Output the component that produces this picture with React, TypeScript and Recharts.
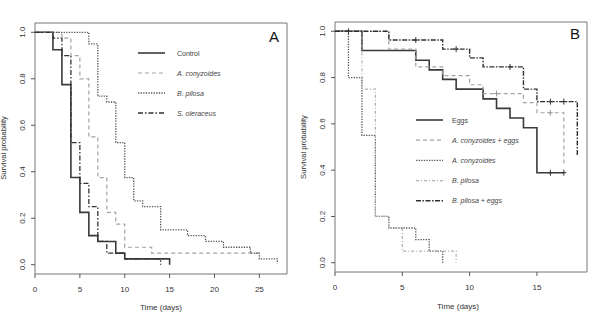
import React from 'react';
import { ComposedChart, Line, Scatter, XAxis, YAxis, ReferenceArea } from 'recharts';

const FONT = '"Liberation Sans", Arial, sans-serif';

// Panel A: larval survival on host plants (Kaplan-Meier steps)
const controlTimes = [0, 2, 3, 4, 5, 6, 7, 9, 10, 15];
const controlSurv = [1, 0.925, 0.775, 0.375, 0.225, 0.125, 0.1, 0.05, 0.025, 0];
const conyzoidesTimes = [0, 3, 4, 5, 6, 7, 8, 9, 10, 13, 25];
const conyzoidesSurv = [1, 0.975, 0.9, 0.8, 0.55, 0.375, 0.225, 0.175, 0.075, 0.05, 0.05];
const pilosaTimes = [0, 6, 7, 8, 9, 10, 11, 12, 14, 17, 19, 21, 24, 25, 27];
const pilosaSurv = [1, 0.95, 0.725, 0.7, 0.525, 0.375, 0.275, 0.25, 0.15, 0.125, 0.1, 0.075, 0.05, 0.025, 0.005];
const oleraceusTimes = [0, 2, 3, 4, 5, 6, 7, 8, 10, 14];
const oleraceusSurv = [1, 0.975, 0.9, 0.525, 0.35, 0.25, 0.1, 0.05, 0.025, 0];

// Panel B: survival with / without eggs
const eggsTimes = [0, 2, 6, 7, 8, 9, 11, 12, 13, 14, 15, 17];
const eggsSurv = [1, 0.917, 0.875, 0.833, 0.792, 0.75, 0.708, 0.667, 0.625, 0.583, 0.389, 0.389];
const conyzEggsTimes = [0, 4, 6, 8, 10, 11, 14, 15, 17];
const conyzEggsSurv = [1, 0.923, 0.846, 0.808, 0.769, 0.731, 0.692, 0.648, 0.43];
const conyzTimes = [0, 1, 2, 3, 4, 6, 7, 8];
const conyzSurv = [1, 0.8, 0.55, 0.2, 0.15, 0.1, 0.05, 0];
const bPilosaTimes = [0, 2, 3, 4, 5, 9];
const bPilosaSurv = [1, 0.75, 0.2, 0.15, 0.05, 0];
const pilosaEggsTimes = [0, 4, 8, 10, 11, 14, 15, 18];
const pilosaEggsSurv = [1, 0.962, 0.923, 0.885, 0.846, 0.75, 0.696, 0.465];

// censored observations (+ marks)
const eggsCensT = [16, 17];
const eggsCensS = [0.389, 0.389];
const conyzEggsCensT = [12, 16];
const conyzEggsCensS = [0.731, 0.648];
const pilosaEggsCensT = [1, 6, 9, 13, 16, 17];
const pilosaEggsCensS = [1, 0.962, 0.923, 0.846, 0.696, 0.696];

const xTicksA = [0, 5, 10, 15, 20, 25];
const xTicksB = [0, 5, 10, 15];
const yTicks = [0, 0.2, 0.4, 0.6, 0.8, 1.0];

const toPoints = (times: number[], surv: number[]) => times.map((t, i) => ({ t, s: surv[i] }));

type Style = { stroke: string; dash?: string; width: number };
const solid: Style = { stroke: '#3a3a3a', width: 1.6 };
const greyDash: Style = { stroke: '#a3a3a3', dash: '4 3', width: 1.2 };
const dotted: Style = { stroke: '#555', dash: '1.3 1.3', width: 1.3 };
const dashDot: Style = { stroke: '#333', dash: '5 2 1.5 2', width: 1.3 };
const lightDashDot: Style = { stroke: '#b0b0b0', dash: '3 2 1 2', width: 1.2 };
const darkDashDot: Style = { stroke: '#303030', dash: '5 1.5 1.5 1.5', width: 1.4 };

const seriesA = [
  { name: 'Control', italic: false, style: solid, data: toPoints(controlTimes, controlSurv) },
  { name: 'A. conyzoides', italic: true, style: greyDash, data: toPoints(conyzoidesTimes, conyzoidesSurv) },
  { name: 'B. pilosa', italic: true, style: dotted, data: toPoints(pilosaTimes, pilosaSurv) },
  { name: 'S. oleraceus', italic: true, style: dashDot, data: toPoints(oleraceusTimes, oleraceusSurv) },
];

const seriesB = [
  { name: 'Eggs', italic: false, style: solid, data: toPoints(eggsTimes, eggsSurv), cens: toPoints(eggsCensT, eggsCensS) },
  { name: 'A. conyzoides + eggs', italic: true, style: greyDash, data: toPoints(conyzEggsTimes, conyzEggsSurv), cens: toPoints(conyzEggsCensT, conyzEggsCensS) },
  { name: 'A. conyzoides', italic: true, style: dotted, data: toPoints(conyzTimes, conyzSurv), cens: [] },
  { name: 'B. pilosa', italic: true, style: lightDashDot, data: toPoints(bPilosaTimes, bPilosaSurv), cens: [] },
  { name: 'B. pilosa + eggs', italic: true, style: darkDashDot, data: toPoints(pilosaEggsTimes, pilosaEggsSurv), cens: toPoints(pilosaEggsCensT, pilosaEggsCensS) },
];

const YTick = (props: any) => {
  const { x, y, payload } = props;
  const bx = x - 3.5;
  return (
    <text x={bx} y={y} transform={`rotate(-90, ${bx}, ${y})`} textAnchor="middle"
      fontSize={8} fontFamily={FONT} fill="#333">
      {Number(payload.value).toFixed(1)}
    </text>
  );
};

const censorMark = (color: string) => (props: any) => {
  const { cx, cy } = props;
  return (
    <path d={`M${cx},${cy - 3}V${cy + 3}M${cx - 2.5},${cy}H${cx + 2.5}`} stroke={color} strokeWidth={1} fill="none" />
  );
};

const tickStyle = { fontSize: 8, fill: '#333', fontFamily: FONT };

const Panel = ({ series, xMax, xTicks, width, top, bottomH, right }: any) => (
  <ComposedChart width={width} height={315} margin={{ top, right, bottom: 0, left: 0 }}>
    <XAxis type="number" dataKey="t" domain={[0, xMax]} ticks={xTicks} allowDataOverflow
      axisLine={false} tickSize={4} tickMargin={8} height={bottomH}
      tickLine={{ stroke: '#555' }} tick={tickStyle} />
    <YAxis type="number" domain={[-0.04, 1.04]} ticks={yTicks} allowDataOverflow width={35}
      axisLine={false} tickSize={4} tickMargin={2} tickLine={{ stroke: '#555' }} tick={<YTick />} />
    <ReferenceArea x1={0} x2={xMax} y1={-0.04} y2={1.04} fill="none" stroke="#777" strokeWidth={1} />
    {series.map((s: any) => (
      <Line key={s.name} data={s.data} dataKey="s" type="stepAfter" stroke={s.style.stroke}
        strokeWidth={s.style.width} strokeDasharray={s.style.dash} dot={false}
        isAnimationActive={false} />
    ))}
    {series.filter((s: any) => s.cens && s.cens.length).map((s: any) => (
      <Scatter key={s.name + '-cens'} data={s.cens} dataKey="s" shape={censorMark(s.style.stroke === '#a3a3a3' ? '#999' : '#333')}
        isAnimationActive={false} />
    ))}
  </ComposedChart>
);

const LegendRows = ({ series, x1, x2, tx, y0, step }: any) => (
  <g>
    {series.map((s: any, i: number) => {
      const y = y0 + i * step;
      return (
        <g key={s.name}>
          <line x1={x1} x2={x2} y1={y} y2={y} stroke={s.style.stroke} strokeWidth={s.style.width}
            strokeDasharray={s.style.dash} />
          <text x={tx} y={y + 2.5} fontSize={7} fontFamily={FONT} fill="#444"
            fontStyle={s.italic ? 'italic' : 'normal'}>{s.name}</text>
        </g>
      );
    })}
  </g>
);

export default function App() {
  return (
    <div style={{ position: 'absolute', left: 0, top: 0, width: 607, height: 315, background: '#fff' }}>
      <div style={{ position: 'absolute', left: 0, top: 0 }}>
        <Panel series={seriesA} xMax={28.08} xTicks={xTicksA} width={300} top={23} bottomH={41} right={13} />
      </div>
      <div style={{ position: 'absolute', left: 300, top: 0 }}>
        <Panel series={seriesB} xMax={18.72} xTicks={xTicksB} width={307} top={22} bottomH={43} right={20} />
      </div>
      <svg width={607} height={315} style={{ position: 'absolute', left: 0, top: 0, pointerEvents: 'none' }}>
        <LegendRows series={seriesA} x1={138} x2={165} tx={177} y0={53} step={20} />
        <LegendRows series={seriesB} x1={416} x2={443} tx={452} y0={120} step={20.2} />
        <text x={269} y={42} fontSize={15} fontFamily={FONT} fill="#111">A</text>
        <text x={570} y={38.5} fontSize={15} fontFamily={FONT} fill="#111">B</text>
        <text x={161} y={310} textAnchor="middle" fontSize={8} fontFamily={FONT} fill="#333">Time (days)</text>
        <text x={458} y={308.5} textAnchor="middle" fontSize={8} fontFamily={FONT} fill="#333">Time (days)</text>
        <text x={6} y={148} transform="rotate(-90, 6, 148)" textAnchor="middle" fontSize={7.6} fontFamily={FONT} fill="#333">Survival probability</text>
        <text x={306} y={147} transform="rotate(-90, 306, 147)" textAnchor="middle" fontSize={7.6} fontFamily={FONT} fill="#333">Survival probability</text>
      </svg>
    </div>
  );
}
